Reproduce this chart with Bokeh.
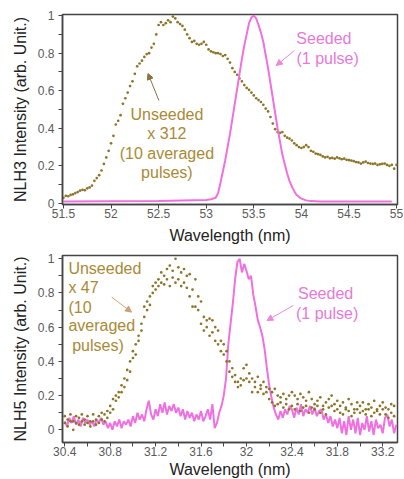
import numpy as np
from bokeh.plotting import figure
from bokeh.layouts import column
from bokeh.models import FixedTicker, Label, Arrow, NormalHead, Title, Range1d
from bokeh.embed import file_html
from bokeh.resources import INLINE

FONT = "Liberation Sans"

# ---------------- data: NLH3 (top) ----------------
top_unseeded_start = 51.5
top_unseeded_step = 0.025
top_unseeded = [
    0.030, 0.040, 0.038, 0.045, 0.048, 0.055, 0.060, 0.068, 0.072, 0.070,
    0.080, 0.085, 0.095, 0.120, 0.135, 0.150, 0.175, 0.210, 0.245, 0.280,
    0.320, 0.360, 0.420, 0.440, 0.470, 0.530, 0.560, 0.590, 0.625, 0.650,
    0.690, 0.730, 0.745, 0.760, 0.780, 0.795, 0.800, 0.830, 0.850, 0.900,
    0.950, 0.965, 0.950, 0.960, 0.975, 0.965, 0.995, 0.985, 0.965, 0.955,
    0.945, 0.925, 0.900, 0.880, 0.860, 0.865, 0.850, 0.845, 0.850, 0.860,
    0.845, 0.820, 0.810, 0.805, 0.800, 0.800, 0.795, 0.785, 0.790, 0.770,
    0.750, 0.720, 0.700, 0.685, 0.665, 0.650, 0.630, 0.615, 0.605, 0.590,
    0.575, 0.560, 0.550, 0.540, 0.525, 0.505, 0.490, 0.460, 0.425, 0.395,
    0.380, 0.375, 0.380, 0.360, 0.350, 0.345, 0.335, 0.320, 0.310, 0.300,
    0.295, 0.300, 0.310, 0.300, 0.280, 0.275, 0.265, 0.262, 0.258, 0.250,
    0.245, 0.248, 0.240, 0.242, 0.238, 0.245, 0.240, 0.235, 0.238, 0.232,
    0.230, 0.228, 0.225, 0.220, 0.218, 0.212, 0.218, 0.222, 0.215, 0.212,
    0.210, 0.212, 0.205, 0.208, 0.210, 0.212, 0.205, 0.200, 0.205, 0.185,
    0.205,
]
top_unseeded_x = [round(top_unseeded_start + top_unseeded_step * i, 3)
                  for i in range(len(top_unseeded))]

top_seeded_x = [51.5, 52.0, 52.5, 53.0, 53.05, 53.1, 53.125, 53.15, 53.175, 53.2,
                53.225, 53.25, 53.275, 53.3, 53.325, 53.35, 53.375, 53.4, 53.425,
                53.45, 53.475, 53.5, 53.525, 53.55, 53.575, 53.6, 53.625, 53.65,
                53.675, 53.7, 53.725, 53.75, 53.775, 53.8, 53.825, 53.85, 53.875,
                53.9, 53.925, 53.95, 54.0, 54.05, 54.1, 54.2, 54.5, 54.95]
top_seeded = [0.010, 0.011, 0.012, 0.018, 0.022, 0.030, 0.055, 0.11, 0.17, 0.23,
              0.30, 0.37, 0.45, 0.53, 0.61, 0.69, 0.77, 0.84, 0.90,
              0.96, 0.99, 1.00, 0.985, 0.95, 0.91, 0.86, 0.79, 0.72,
              0.64, 0.56, 0.48, 0.40, 0.33, 0.26, 0.21, 0.16, 0.12,
              0.09, 0.065, 0.045, 0.025, 0.016, 0.012, 0.010, 0.010, 0.010]

# ---------------- data: NLH5 (bottom) ----------------
bot_unseeded_start = 30.4
bot_unseeded_step = 0.025
bot_unseeded_a = [
    0.08, 0.06, 0.09, 0.05, 0.08, 0.07, 0.09, 0.06,
    0.08, 0.05, 0.09, 0.06, 0.08, 0.10, 0.09, 0.11,
    0.14, 0.18, 0.20, 0.19, 0.26, 0.30, 0.35, 0.40,
    0.46, 0.50, 0.55, 0.62, 0.72, 0.75, 0.78, 0.84,
    0.86, 0.88, 0.92, 0.90, 0.94, 0.96, 0.93, 1.00,
    0.95, 0.92, 0.94, 0.90, 0.91, 0.82, 0.88, 0.78,
    0.75, 0.66, 0.64, 0.65, 0.64, 0.60, 0.58, 0.52,
    0.50, 0.46, 0.40, 0.36, 0.32, 0.28, 0.30, 0.36,
    0.38, 0.33, 0.30, 0.28, 0.31, 0.26, 0.28, 0.25,
    0.24, 0.22, 0.24, 0.20, 0.19, 0.21, 0.18, 0.20,
    0.22, 0.20, 0.18, 0.21, 0.19, 0.17, 0.22, 0.18,
    0.15, 0.17, 0.19, 0.14, 0.16, 0.18, 0.20, 0.15,
    0.17, 0.14, 0.16, 0.13, 0.18, 0.15, 0.12, 0.16,
    0.14, 0.16, 0.12, 0.15, 0.13, 0.17, 0.12, 0.14,
    0.16, 0.13, 0.12, 0.15, 0.14,
]
bot_unseeded_b = [
    0.04, 0.02, 0.05, 0.00, 0.04, 0.03, 0.05, 0.03,
    0.04, 0.02, 0.05, 0.03, 0.04, 0.06, 0.05, 0.07,
    0.10, 0.12, 0.17, 0.22, 0.22, 0.25, 0.29, 0.34,
    0.42, 0.44, 0.52, 0.58, 0.66, 0.70, 0.73, 0.80,
    0.82, 0.84, 0.86, 0.85, 0.88, 0.84, 0.89, 0.86,
    0.88, 0.84, 0.86, 0.83, 0.78, 0.72, 0.72, 0.70,
    0.62, 0.58, 0.60, 0.55, 0.57, 0.52, 0.50, 0.46,
    0.44, 0.40, 0.34, 0.31, 0.28, 0.25, 0.26, 0.29,
    0.30, 0.28, 0.22, 0.25, 0.22, 0.24, 0.21, 0.22,
    0.18, 0.16, 0.14, 0.15, 0.16, 0.13, 0.15, 0.12,
    0.14, 0.12, 0.15, 0.11, 0.13, 0.14, 0.10, 0.13,
    0.12, 0.14, 0.10, 0.12, 0.09, 0.13, 0.14, 0.11,
    0.12, 0.10, 0.09, 0.12, 0.11, 0.08, 0.10, 0.12,
    0.10, 0.11, 0.09, 0.12, 0.08, 0.10, 0.11, 0.09,
    0.12, 0.09, 0.07, 0.10, 0.08,
]
bot_unseeded_x = [round(bot_unseeded_start + bot_unseeded_step * i, 3)
                  for i in range(len(bot_unseeded_a))]

bot_seeded_start = 30.4
bot_seeded_step = 0.02
bot_seeded = [
    0.05, 0.02, 0.07, 0.04, 0.08, 0.03, 0.06, 0.02, 0.07, 0.04,
    0.06, 0.03, 0.05, 0.02, 0.06, 0.04, 0.07, 0.03, 0.05, 0.01,
    0.04, 0.00, 0.05, 0.02, 0.06, 0.01, 0.05, 0.03, 0.06, 0.02,
    0.08, 0.04, 0.10, 0.06, 0.09, 0.05, 0.12, 0.17, 0.09, 0.06,
    0.12, 0.08, 0.15, 0.10, 0.16, 0.09, 0.14, 0.11, 0.15, 0.10,
    0.13, 0.08, 0.12, 0.06, 0.11, 0.07, 0.10, 0.05, 0.09, 0.06,
    0.11, 0.05, 0.08, 0.12, 0.06, 0.15, 0.01, 0.04, 0.10, 0.14,
    0.20, 0.30, 0.50, 0.62, 0.74, 0.88, 0.98, 1.00, 0.92, 0.97,
    0.93, 0.88, 0.90, 0.79, 0.72, 0.64, 0.60, 0.55, 0.47, 0.36,
    0.26, 0.19, 0.13, 0.09, 0.06, 0.11, 0.07, 0.12, 0.09, 0.14,
    0.12, 0.07, 0.13, 0.09, 0.15, 0.08, 0.12, 0.10, 0.14, 0.09,
    0.13, 0.08, 0.11, 0.12, 0.06, 0.09, 0.04, 0.08, 0.02, 0.06,
    0.01, 0.07, -0.02, 0.05, -0.03, 0.08, 0.00, 0.06, -0.02, 0.07,
    -0.03, 0.04, 0.00, 0.08, -0.01, 0.05, -0.03, 0.06, 0.01, 0.03,
    -0.02, 0.07, 0.09, 0.02, 0.06, -0.02, 0.03,
]
bot_seeded_x = [round(bot_seeded_start + bot_seeded_step * i, 3)
                for i in range(len(bot_seeded))]

# ---------------- ticks ----------------
y_ticks = [0, 0.2, 0.4, 0.6, 0.8, 1.0]
y_tick_labels = ["0", "0.2", "0.4", "0.6", "0.8", "1"]
y_minor_ticks = [0.1, 0.3, 0.5, 0.7, 0.9]
top_x_ticks = [51.5, 52.0, 52.5, 53.0, 53.5, 54.0, 54.5, 55.0]
top_x_labels = ["51.5", "52", "52.5", "53", "53.5", "54", "54.5", "55"]
bot_x_ticks = [30.4, 30.8, 31.2, 31.6, 32.0, 32.4, 32.8, 33.2]
bot_x_labels = ["30.4", "30.8", "31.2", "31.6", "32", "32.4", "31.8", "33.2"]
bot_x_minor = [30.6, 31.0, 31.4, 31.8, 32.2, 32.6, 33.0]

PINK = "#f070e0"
PINK_TXT = "#e67ad8"
DOT = "#8c7428"
GOLD = "#a98a35"


def style(p, xt, xl, xm, ylabel, title_standoff):
    p.xgrid.visible = False
    p.ygrid.visible = False
    p.outline_line_color = "#444444"
    p.outline_line_width = 1.5
    p.background_fill_color = "white"
    p.border_fill_color = "white"
    p.xaxis.ticker = FixedTicker(ticks=xt, minor_ticks=xm)
    p.xaxis.major_label_overrides = dict(zip(xt, xl))
    p.yaxis.ticker = FixedTicker(ticks=y_ticks, minor_ticks=y_minor_ticks)
    p.yaxis.major_label_overrides = dict(zip(y_ticks, y_tick_labels))
    for ax in (p.xaxis[0], p.yaxis[0]):
        ax.axis_line_color = "#444444"
        ax.axis_line_width = 1.5
        ax.major_tick_line_color = "#444444"
        ax.minor_tick_line_color = "#444444"
        ax.major_tick_in = 0
        ax.major_tick_out = 4
        ax.minor_tick_in = 0
        ax.minor_tick_out = 4
        ax.major_label_text_font = FONT
        ax.major_label_text_font_size = "12px"
        ax.major_label_text_color = "#5a5a5a"
    p.xaxis.major_label_standoff = 0
    p.yaxis.major_label_standoff = 4
    p.yaxis.axis_label = ylabel
    p.yaxis.axis_label_text_font = FONT
    p.yaxis.axis_label_text_font_size = "16px"
    p.yaxis.axis_label_text_font_style = "normal"
    p.yaxis.axis_label_text_color = "#222222"
    p.yaxis.axis_label_standoff = 6
    t = Title(text="Wavelength (nm)", align="center", offset=18,
              text_font=FONT, text_font_size="16px", text_font_style="normal",
              text_color="#222222", standoff=title_standoff)
    p.add_layout(t, "below")


def add_text(p, x, y, txt, color, align="center", size="16px"):
    p.add_layout(Label(x=x, y=y, text=txt, text_color=color, text_font=FONT,
                       text_font_size=size, text_align=align,
                       text_baseline="middle"))


def add_arrow(p, x0, y0, x1, y1, color):
    p.add_layout(Arrow(x_start=x0, y_start=y0, x_end=x1, y_end=y1,
                       line_color=color, line_width=1,
                       end=NormalHead(size=6, fill_color=color, line_color=color)))


# ---------------- top figure ----------------
p1 = figure(width=404, height=248, output_backend="svg", toolbar_location=None,
            x_range=Range1d(51.49, 55.01), y_range=Range1d(-0.006, 1.006),
            min_border_left=60, min_border_right=7, min_border_top=14,
            min_border_bottom=44)
style(p1, top_x_ticks, top_x_labels, [], "NLH3 Intensity (arb. Unit.)", 8)
p1.scatter(top_unseeded_x, top_unseeded, size=2.7, fill_color=DOT, line_color=None)
p1.line(top_seeded_x, top_seeded, line_color=PINK, line_width=2)

add_text(p1, 52.587, 0.473, "Unseeded", GOLD)
add_text(p1, 52.587, 0.372, "x 312", GOLD)
add_text(p1, 52.587, 0.266, "(10 averaged", GOLD)
add_text(p1, 52.587, 0.164, "pulses)", GOLD)
add_arrow(p1, 52.503, 0.548, 52.388, 0.692, "#8a7340")
add_text(p1, 54.237, 0.877, "Seeded", PINK_TXT)
add_text(p1, 54.276, 0.770, "(1 pulse)", PINK_TXT)
add_arrow(p1, 53.927, 0.814, 53.736, 0.734, "#ee88dd")

# ---------------- bottom figure ----------------
p2 = figure(width=404, height=231, output_backend="svg", toolbar_location=None,
            x_range=Range1d(30.38, 33.33), y_range=Range1d(-0.074, 1.019),
            min_border_left=62, min_border_right=4, min_border_top=7,
            min_border_bottom=37)
style(p2, bot_x_ticks, bot_x_labels, bot_x_minor, "NLH5 Intensity (arb. Unit.)", 0)
p2.line(bot_seeded_x, bot_seeded, line_color=PINK, line_width=2)
p2.scatter(bot_unseeded_x, bot_unseeded_a, size=2.7, fill_color=DOT, line_color=None)
p2.scatter(bot_unseeded_x, bot_unseeded_b, size=2.7, fill_color=DOT, line_color=None)

add_text(p2, 30.432, 0.942, "Unseeded", GOLD, align="left")
add_text(p2, 30.432, 0.834, "x 47", GOLD, align="left")
add_text(p2, 30.432, 0.717, "(10", GOLD, align="left")
add_text(p2, 30.432, 0.610, "averaged", GOLD, align="left")
add_text(p2, 30.465, 0.493, "pulses)", GOLD, align="left")
add_arrow(p2, 30.814, 0.775, 30.988, 0.688, "#c9a27a")
add_text(p2, 32.697, 0.795, "Seeded", PINK_TXT)
add_text(p2, 32.71, 0.678, "(1 pulse)", PINK_TXT)
add_arrow(p2, 32.414, 0.727, 32.18, 0.639, "#ee88dd")

layout = column(p1, p2, spacing=0)
open("out.html", "w").write(file_html(layout, INLINE))
